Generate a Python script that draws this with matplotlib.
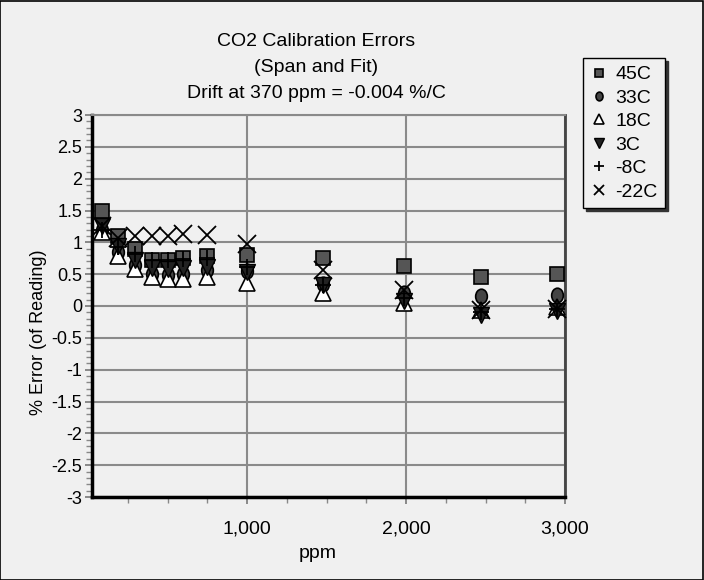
import matplotlib
matplotlib.use("Agg")
import matplotlib.pyplot as plt
from matplotlib.markers import MarkerStyle
from matplotlib.transforms import Affine2D
from matplotlib.ticker import MultipleLocator, FuncFormatter, FixedLocator
from matplotlib.patches import Rectangle

plt.rcParams['font.family'] = ['Liberation Sans', 'DejaVu Sans']

ppm = [90, 190, 295, 400, 500, 600, 750, 1000, 1480, 1985, 2470, 2950]
series_names = ["45C", "33C", "18C", "3C", "-8C", "-22C"]
err_45 = [1.50, 1.10, 0.89, 0.72, 0.72, 0.75, 0.78, 0.80, 0.76, 0.63, 0.46, 0.50]
err_33 = [1.20, 0.85, 0.65, 0.50, 0.48, 0.50, 0.56, 0.55, 0.35, 0.20, 0.15, 0.18]
err_18 = [1.17, 0.78, 0.58, 0.45, 0.42, 0.42, 0.46, 0.36, 0.21, 0.05, -0.06, -0.02]
err_3 = [1.25, 0.95, 0.73, 0.60, 0.58, 0.60, 0.62, 0.54, 0.33, 0.08, -0.14, -0.08]
err_m8 = [1.20, 0.93, 0.82, 0.73, 0.72, 0.74, 0.76, 0.62, 0.33, 0.12, -0.10, -0.05]
err_m22 = [1.25, 1.07, 1.10, 1.10, 1.10, 1.13, 1.12, 0.98, 0.57, 0.25, -0.06, -0.04]
series_values = [err_45, err_33, err_18, err_3, err_m8, err_m22]

title_lines = ["CO2 Calibration Errors", "(Span and Fit)", "Drift at 370 ppm = -0.004 %/C"]

bg = '#f0f0f0'
fs = 14
fig = plt.figure(figsize=(7.04, 5.8), dpi=100, facecolor=bg)
W, H = 704, 580
ax = fig.add_axes([92 / W, 1 - 497 / H, (565 - 92) / W, (497 - 115) / H])
ax.set_facecolor(bg)

ellipse = MarkerStyle('o', transform=Affine2D().scale(0.8, 1.0))
styles = [
    dict(marker='s', ms=10.5, mfc='#555555', mec='black', mew=1.2),
    dict(marker=ellipse, ms=10.5, mfc='#444444', mec='black', mew=1.2),
    dict(marker='^', ms=11, mfc='white', mec='black', mew=1.2),
    dict(marker='v', ms=11, mfc='#222222', mec='black', mew=1.0),
    dict(marker='+', ms=12, mfc='none', mec='black', mew=1.3),
    dict(marker='x', ms=12.5, mfc='none', mec='black', mew=1.3),
]

handles = []
for name, vals, st in zip(series_names, series_values, styles):
    h, = ax.plot(ppm, vals, linestyle='none', label=name, zorder=3, clip_on=False, **st)
    handles.append(h)

ax.set_xlim(25, 3000)
ax.set_ylim(-3, 3)

ax.xaxis.set_major_locator(FixedLocator([1000, 2000, 3000]))
ax.xaxis.set_minor_locator(MultipleLocator(250))
ax.xaxis.set_major_formatter(FuncFormatter(lambda v, p: f"{int(v):,}"))
ax.yaxis.set_major_locator(MultipleLocator(0.5))
ax.yaxis.set_minor_locator(MultipleLocator(0.1))
ax.yaxis.set_major_formatter(FuncFormatter(lambda v, p: f"{v:g}"))

ax.grid(True, which='major', color='#8a8a8a', linewidth=1.5, zorder=1)
ax.set_axisbelow(True)

for s in ['left', 'bottom']:
    ax.spines[s].set_color('black')
    ax.spines[s].set_linewidth(2.5)
ax.spines['right'].set_color('#444444')
ax.spines['right'].set_linewidth(2)
ax.spines['top'].set_color('#8a8a8a')
ax.spines['top'].set_linewidth(1.5)

ax.tick_params(axis='both', which='major', direction='out', length=5, width=1.2,
               color='#777777', labelsize=fs, labelcolor='black')
ax.tick_params(axis='y', which='major', labelsize=13)
ax.tick_params(axis='both', which='minor', direction='out', length=4, width=1.0,
               color='#888888')
ax.tick_params(axis='x', which='major', pad=12)
ax.tick_params(axis='y', which='major', pad=2)

fig.text(316 / W, 1 - 42 / H, title_lines[0], ha='center', va='center', fontsize=fs)
fig.text(316 / W, 1 - 68 / H, title_lines[1], ha='center', va='center', fontsize=fs)
fig.text(316 / W, 1 - 94 / H, title_lines[2], ha='center', va='center', fontsize=fs)
fig.text(318 / W, 1 - 553 / H, "ppm", ha='center', va='center', fontsize=fs)
fig.text(39 / W, 1 - 332 / H, "% Error (of Reading)", ha='center', va='center',
         rotation=90, fontsize=13)

leg = fig.legend(handles=handles, loc='upper left', bbox_to_anchor=(583 / W, 1 - 58 / H),
                 frameon=True, fancybox=False, shadow={'color': '#333333', 'alpha': 1.0},
                 fontsize=fs, markerscale=0.6, handlelength=0.8, handletextpad=0.45,
                 labelspacing=0.3, borderpad=0.4, borderaxespad=0)
leg.get_frame().set_edgecolor('black')
leg.get_frame().set_linewidth(1.0)
leg.get_frame().set_facecolor(bg)

fig.patches.append(Rectangle((0.0005, 0.0005), 0.998, 0.998, transform=fig.transFigure,
                             fill=False, edgecolor='black', linewidth=1.2))

fig.savefig("out.png", dpi=100, facecolor=bg)
